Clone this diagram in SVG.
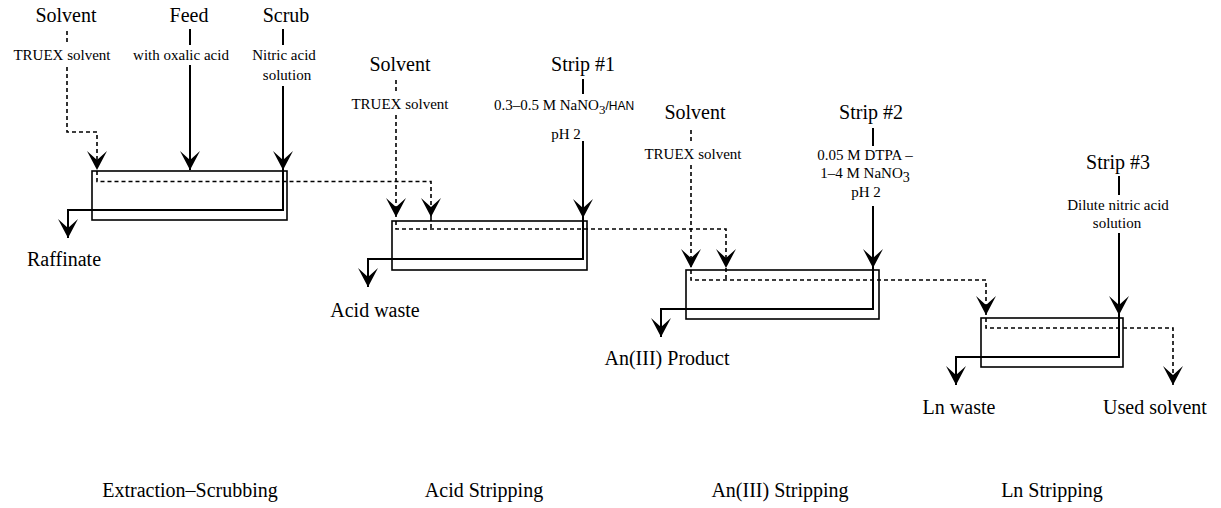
<svg xmlns="http://www.w3.org/2000/svg" width="1221" height="508" viewBox="0 0 1221 508">
<style>
  text { font-family: "Liberation Serif", "Times New Roman", serif; fill: #000; }
  .big { font-size: 20px; text-anchor: middle; }
  .small { font-size: 15px; text-anchor: middle; }
  .han { font-family: "Liberation Sans", Arial, sans-serif; font-size: 12px; }
  .box { fill: none; stroke: #000; stroke-width: 1.6; }
  .solid { fill: none; stroke: #000; stroke-width: 2; }
  .dash { fill: none; stroke: #000; stroke-width: 1.6; stroke-dasharray: 4 3; }
  .arr { marker-end: url(#ah); }
</style>
<defs>
  <marker id="ah" markerUnits="userSpaceOnUse" viewBox="-21 -11 22 22" markerWidth="22" markerHeight="22" refX="0" refY="0" orient="auto" overflow="visible">
    <path d="M0,0 L-19,-10 L-10,0 L-19,10 Z" fill="#000" stroke="none"/>
  </marker>
</defs>
<rect width="1221" height="508" fill="#fff"/>

<g id="connectors">
  <!-- Stage 1 -->
  <path class="dash" d="M67,31 V45"/>
  <path class="dash arr" d="M67,67 V132 H97 V170"/>
  <path class="dash arr" d="M97,171 V181.5 H431 V217"/>
  <path class="solid" d="M190,29 V45"/>
  <path class="solid arr" d="M190,65 V170"/>
  <path class="solid" d="M283,29 V45"/>
  <path class="solid arr" d="M283,86 V170"/>
  <path class="solid arr" d="M283,170 V210 H68 V238"/>
  <!-- Stage 2 -->
  <path class="dash" d="M396,80 V93"/>
  <path class="dash arr" d="M396,115 V217"/>
  <path class="dash arr" d="M396,221 V229 H726 V268"/>
  <path class="dash" d="M431,217 V229"/>
  <path class="solid" d="M583,79 V94"/>
  <path class="solid arr" d="M583,141 V218"/>
  <path class="solid arr" d="M583,218 V259 H368 V287"/>
  <!-- Stage 3 -->
  <path class="dash" d="M691,130 V144"/>
  <path class="dash arr" d="M691,165 V268"/>
  <path class="dash arr" d="M691,270 V280 H986 V315"/>
  <path class="dash" d="M726,268 V280"/>
  <path class="solid" d="M873,128 V146"/>
  <path class="solid arr" d="M873,206 V268"/>
  <path class="solid arr" d="M873,268 V309 H661 V337"/>
  <!-- Stage 4 -->
  <path class="solid" d="M1119,176 V195"/>
  <path class="solid arr" d="M1119,233 V315"/>
  <path class="dash arr" d="M986,318 V328 H1173 V385"/>
  <path class="solid arr" d="M1119,315 V357 H956 V385"/>
</g>

<g id="contactor-extraction-scrubbing"><rect class="box" x="92" y="171" width="195" height="49"/></g>
<g id="contactor-acid-stripping"><rect class="box" x="392" y="221" width="195" height="49"/></g>
<g id="contactor-an-stripping"><rect class="box" x="686" y="270" width="193" height="49"/></g>
<g id="contactor-ln-stripping"><rect class="box" x="981" y="318" width="142" height="49"/></g>

<g id="input-solvent-1">
  <text class="big" x="66" y="22">Solvent</text>
  <text class="small" x="62" y="60">TRUEX solvent</text>
</g>
<g id="input-feed">
  <text class="big" x="189" y="22">Feed</text>
  <text class="small" x="181" y="60">with oxalic acid</text>
</g>
<g id="input-scrub">
  <text class="big" x="286" y="22">Scrub</text>
  <text class="small" x="284" y="60">Nitric acid</text>
  <text class="small" x="287" y="80">solution</text>
</g>
<g id="input-solvent-2">
  <text class="big" x="400" y="71">Solvent</text>
  <text class="small" x="400" y="109">TRUEX solvent</text>
</g>
<g id="input-strip-1">
  <text class="big" x="583" y="71">Strip #1</text>
  <text class="small" x="564" y="110">0.3–0.5 M NaNO<tspan dy="4" font-size="13">3</tspan><tspan class="han" dy="-4">/HAN</tspan></text>
  <text class="small" x="566" y="139">pH 2</text>
</g>
<g id="input-solvent-3">
  <text class="big" x="695" y="119">Solvent</text>
  <text class="small" x="693" y="159">TRUEX solvent</text>
</g>
<g id="input-strip-2">
  <text class="big" x="871" y="119">Strip #2</text>
  <text class="small" x="865" y="160">0.05 M DTPA –</text>
  <text class="small" x="865" y="178">1–4 M NaNO<tspan dy="4" font-size="14">3</tspan></text>
  <text class="small" x="866" y="197">pH 2</text>
</g>
<g id="input-strip-3">
  <text class="big" x="1118" y="169">Strip #3</text>
  <text class="small" x="1118" y="210">Dilute nitric acid</text>
  <text class="small" x="1117" y="228">solution</text>
</g>

<g id="output-raffinate"><text class="big" x="64" y="266">Raffinate</text></g>
<g id="output-acid-waste"><text class="big" x="375" y="317">Acid waste</text></g>
<g id="output-an-product"><text class="big" x="667" y="365">An(III) Product</text></g>
<g id="output-ln-waste"><text class="big" x="959" y="414">Ln waste</text></g>
<g id="output-used-solvent"><text class="big" x="1155" y="414">Used solvent</text></g>

<g id="stage-labels">
  <text class="big" x="190" y="497">Extraction–Scrubbing</text>
  <text class="big" x="484" y="497">Acid Stripping</text>
  <text class="big" x="780" y="497">An(III) Stripping</text>
  <text class="big" x="1052" y="497">Ln Stripping</text>
</g>
</svg>
